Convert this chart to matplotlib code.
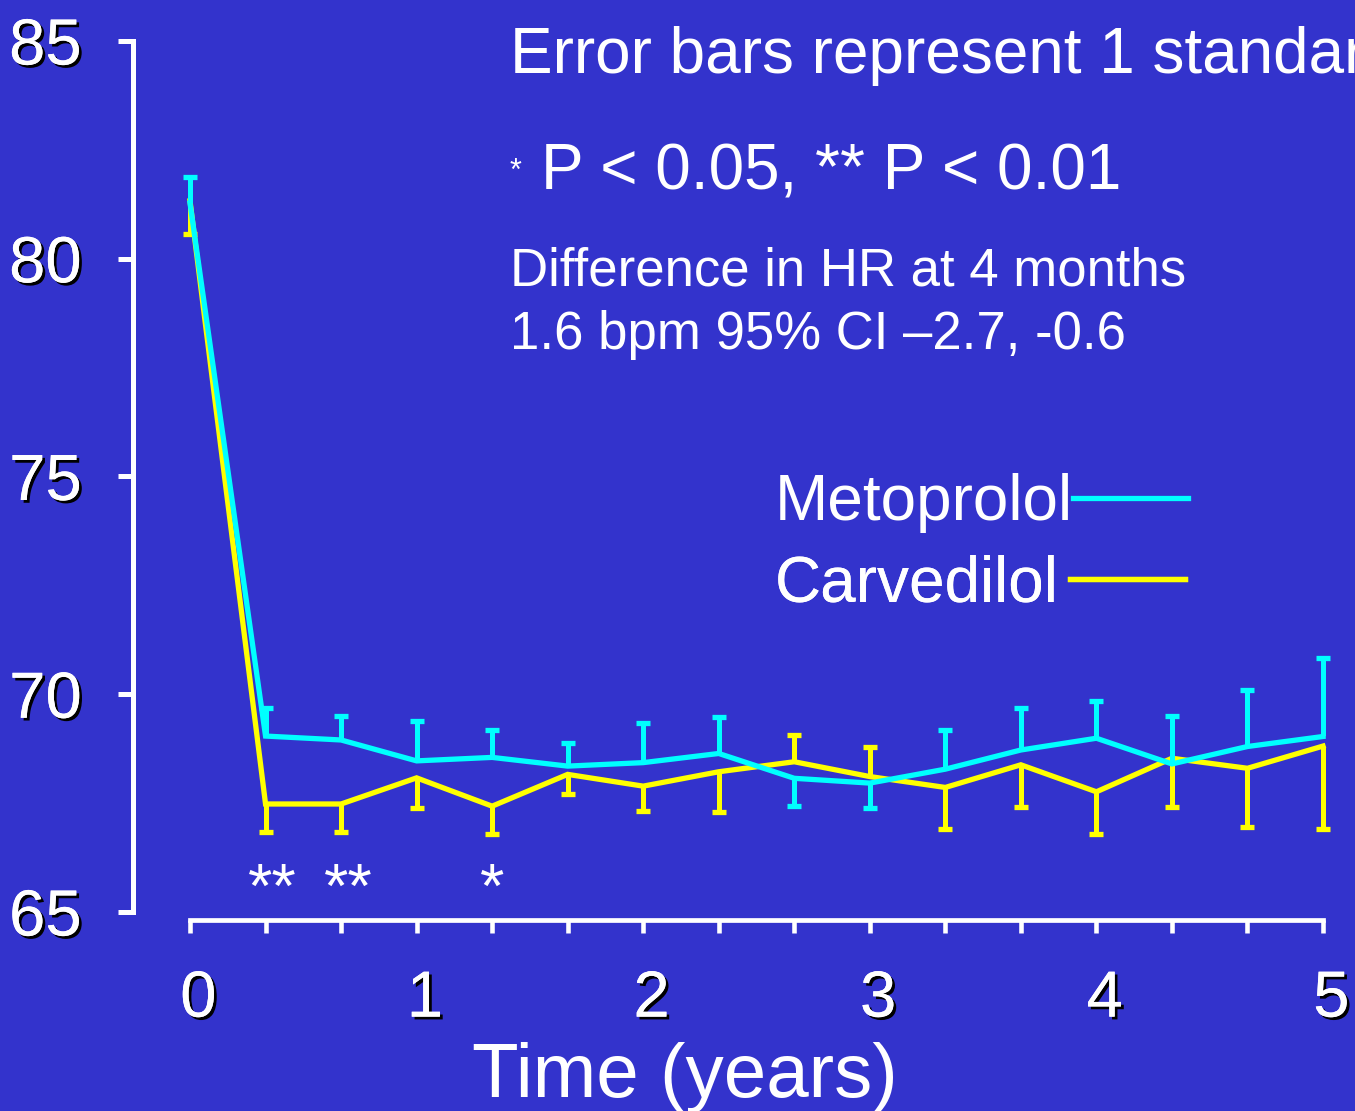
import numpy as np
import matplotlib.pyplot as plt
import matplotlib.patheffects as pe
from matplotlib.transforms import ScaledTranslation

plt.rcParams['font.family'] = ['Liberation Sans', 'DejaVu Sans']

# Heart rate (bpm) at 4-month visits, years 0..5
times = np.arange(16) / 3
meto = [81.28, 69.04, 68.95, 68.47, 68.55, 68.35, 68.43, 68.64,
        68.07, 67.96, 68.28, 68.72, 68.99, 68.40, 68.80, 69.03]
meto_sd = [0.60, 0.64, 0.54, 0.91, 0.63, 0.54, 0.90, 0.84,
           0.64, 0.58, 0.91, 0.96, 0.86, 1.09, 1.29, 1.81]
meto_dir = [1, 1, 1, 1, 1, 1, 1, 1, -1, -1, 1, 1, 1, 1, 1, 1]

carv = [81.33, 67.48, 67.48, 68.08, 67.43, 68.16, 67.89, 68.22,
        68.45, 68.11, 67.86, 68.38, 67.76, 68.53, 68.30, 68.81]
carv_sd = [0.77, 0.64, 0.64, 0.69, 0.64, 0.45, 0.57, 0.93,
           0.61, 0.69, 0.96, 0.98, 0.96, 1.13, 1.35, 1.90]
carv_dir = [-1, -1, -1, -1, -1, -1, -1, -1, 1, 1, -1, -1, -1, -1, -1, -1]

sig_times = [1/3, 2/3, 4/3]
sig_marks = ['**', '**', '*']
sig_y = 65.12

yticks = [65, 70, 75, 80, 85]

bg = '#3333CC'
cyan = '#00FFFF'
yellow = '#FFFF00'

fig = plt.figure(figsize=(13.55, 11.11), dpi=100, facecolor=bg)
ax = fig.add_axes([190/1355, 199/1111, 1133/1355, 871/1111])
ax.set_facecolor(bg)


def draw_series(vals, sd, direction, color, label):
    vals = np.array(vals)
    ends = vals + np.array(direction) * np.array(sd)
    ax.vlines(times, vals, ends, color=color, lw=3.6, clip_on=False)
    ax.plot(times, ends, ls='none', marker='_', ms=9.5, mew=3.8,
            color=color, clip_on=False)
    line, = ax.plot(times, vals, color=color, lw=3.8, label=label,
                    clip_on=False, solid_joinstyle='miter')
    return line


l_carv = draw_series(carv, carv_sd, carv_dir, yellow, 'Carvedilol')
l_meto = draw_series(meto, meto_sd, meto_dir, cyan, 'Metoprolol')

# significance stars, nudged a little right of their visit like the original
star_shift = ScaledTranslation(5 / 72, 0, fig.dpi_scale_trans)
for t, s in zip(sig_times, sig_marks):
    off = star_shift if len(s) == 2 else ScaledTranslation(0, 0, fig.dpi_scale_trans)
    ax.text(t, sig_y, s, color='white', fontsize=45, ha='center', va='baseline',
            transform=ax.transData + off)

ax.set_xlim(0, 5)
ax.set_ylim(65, 85)
for side in ['top', 'right']:
    ax.spines[side].set_visible(False)
ax.spines['left'].set_position(('outward', 41))
ax.spines['bottom'].set_position(('outward', 5.5))
ax.spines['left'].set_color('white')
ax.spines['bottom'].set_color('white')
ax.spines['left'].set_linewidth(3.6)
ax.spines['bottom'].set_linewidth(3.4)

ax.set_xticks(times, labels=[f'{t:.0f}' if abs(t - round(t)) < 1e-9 else '' for t in times])
ax.set_yticks(yticks)
ax.tick_params(axis='y', colors='white', length=11, width=3.6, pad=26, labelsize=47)
ax.tick_params(axis='x', colors='white', length=9, width=3.3, pad=27, labelsize=47)
shadow = [pe.withSimplePatchShadow(offset=(2, -2), shadow_rgbFace='black', alpha=1.0), pe.Normal()]
shift = ScaledTranslation(6 / 72, 0, fig.dpi_scale_trans)
for lab in ax.get_xticklabels():
    lab.set_transform(lab.get_transform() + shift)
for lab in ax.get_xticklabels() + ax.get_yticklabels():
    lab.set_path_effects(shadow)

ax.set_xlabel('Time (years)', color='white', fontsize=55)
ax.xaxis.label.set_va('baseline')
ax.xaxis.set_label_coords((685 - 190) / 1133, (912 - 1097) / 871)


# notes in the upper right
def ftext(x, y, s, size):
    fig.text(x / 1355, 1 - y / 1111, s, color='white', fontsize=size, va='baseline')


ftext(510, 73, 'Error bars represent 1 standard deviation', 46)
ftext(510, 180, '*', 22)
ftext(541, 189, 'P < 0.05, ** P < 0.01', 46)
ftext(510, 286, 'Difference in HR at 4 months', 38)
ftext(510, 349, '1.6 bpm 95% CI \u20132.7, -0.6', 38)

# legend: text first, line after, one entry per row so the text stays left aligned
rows = [(l_meto, 503, 0.0), (l_carv, 584, 11 / 64)]
for handle, ycen, tpad in rows:
    leg = ax.legend(handles=[handle], loc='center left',
                    bbox_to_anchor=(775 / 1355, 1 - ycen / 1111), bbox_transform=fig.transFigure,
                    frameon=False, fontsize=46, markerfirst=False, handlelength=1.8,
                    handletextpad=tpad, borderpad=0, borderaxespad=0)
    for txt in leg.get_texts():
        txt.set_color('white')
    ax.add_artist(leg)

fig.savefig('out.png', dpi=100, facecolor=bg)
